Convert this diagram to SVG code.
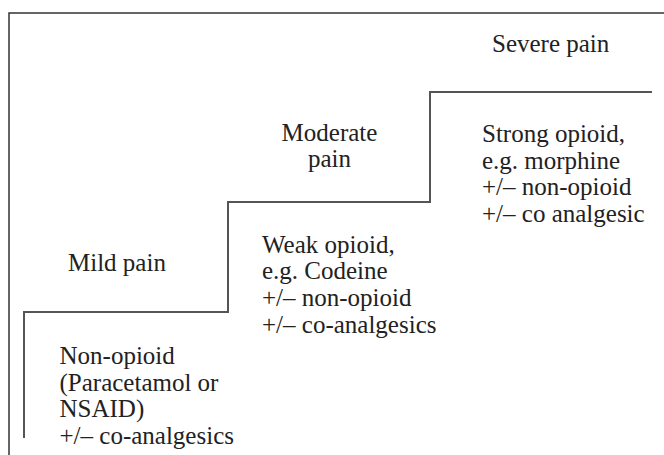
<svg xmlns="http://www.w3.org/2000/svg" width="664" height="455" viewBox="0 0 664 455">
<style>
text{font-family:"Liberation Serif","Times New Roman",serif;font-size:25px;fill:#222}
.step{fill:none;stroke:#555;stroke-width:2}
.frame{fill:none;stroke:#333;stroke-width:1.5}
</style>
<rect width="664" height="455" fill="#fff"/>
<path class="frame" d="M9,455 V13 H664"/>
<g id="connectors">
<path class="step" d="M24,438 V312 H228 V202 H430 V92 H652"/>
</g>
<g id="severe">
<text x="492" y="52">Severe pain</text>
</g>
<g id="moderate">
<text x="329.5" y="140.5" text-anchor="middle">Moderate</text>
<text x="329.5" y="167" text-anchor="middle">pain</text>
</g>
<g id="mild">
<text x="68" y="271">Mild pain</text>
</g>
<g id="strong">
<text x="482" y="142">Strong opioid,</text>
<text x="482" y="168.7">e.g. morphine</text>
<text x="482" y="195.4">+/– non-opioid</text>
<text x="482" y="222">+/– co analgesic</text>
</g>
<g id="weak">
<text x="262" y="252.5">Weak opioid,</text>
<text x="262" y="279.2">e.g. Codeine</text>
<text x="262" y="305.9">+/– non-opioid</text>
<text x="262" y="332.6">+/– co-analgesics</text>
</g>
<g id="nonopioid">
<text x="59.5" y="364">Non-opioid</text>
<text x="59.5" y="390.6">(Paracetamol or</text>
<text x="59.5" y="417.2">NSAID)</text>
<text x="59.5" y="443.8">+/– co-analgesics</text>
</g>
</svg>
